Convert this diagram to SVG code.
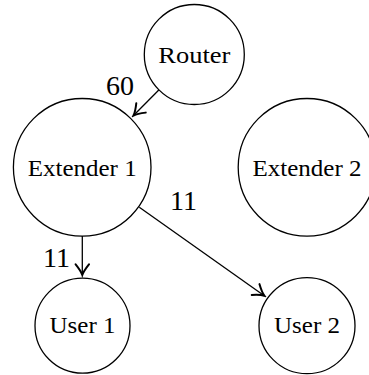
<svg xmlns="http://www.w3.org/2000/svg" width="369" height="375" viewBox="0 0 369 375">
<style>
.node{fill:#fff;stroke:#000;stroke-width:1.3}
.t{font-family:"Liberation Serif","DejaVu Serif",serif;font-size:23.5px;text-anchor:middle;fill:#000}
.lbl{font-family:"Liberation Serif","DejaVu Serif",serif;font-size:28px;fill:#000}
.edge{fill:none;stroke:#000;stroke-width:1.3}
</style>
<defs>
<marker id="arr" markerUnits="userSpaceOnUse" markerWidth="16" markerHeight="16" viewBox="-10 -6 12 12" refX="0" refY="0" orient="auto">
<path d="M-8,-5 Q-3,-1 0,0 Q-3,1 -8,5" fill="none" stroke="#000" stroke-width="1.5" stroke-linecap="round"/>
</marker>
</defs>
<rect width="369" height="375" fill="#fff"/>
<g id="router"><circle class="node" cx="194.3" cy="54.5" r="50"/><text class="t" x="194.3" y="63.3" textLength="72" lengthAdjust="spacingAndGlyphs">Router</text></g>
<g id="extender1"><circle class="node" cx="82.2" cy="167.3" r="68.8"/><text class="t" x="82.2" y="175.7" textLength="109" lengthAdjust="spacingAndGlyphs">Extender 1</text></g>
<g id="extender2"><circle class="node" cx="307" cy="167.3" r="68.8"/><text class="t" x="307" y="175.7" textLength="109" lengthAdjust="spacingAndGlyphs">Extender 2</text></g>
<g id="user1"><circle class="node" cx="82.5" cy="325.7" r="47.5"/><text class="t" x="82.5" y="333.3" textLength="66" lengthAdjust="spacingAndGlyphs">User 1</text></g>
<g id="user2"><circle class="node" cx="307" cy="325.7" r="48"/><text class="t" x="307" y="333.3" textLength="66" lengthAdjust="spacingAndGlyphs">User 2</text></g>
<g id="connectors">
<path class="edge" d="M158.8,90 L133.5,115.5" marker-end="url(#arr)"/>
<path class="edge" d="M82.3,236 L82.3,275" marker-end="url(#arr)"/>
<path class="edge" d="M139.3,207.3 L264.3,295.7" marker-end="url(#arr)"/>
<text class="lbl" x="106" y="95">60</text>
<text class="lbl" x="170" y="210">11</text>
<text class="lbl" x="43" y="266.7">11</text>
</g>
</svg>
